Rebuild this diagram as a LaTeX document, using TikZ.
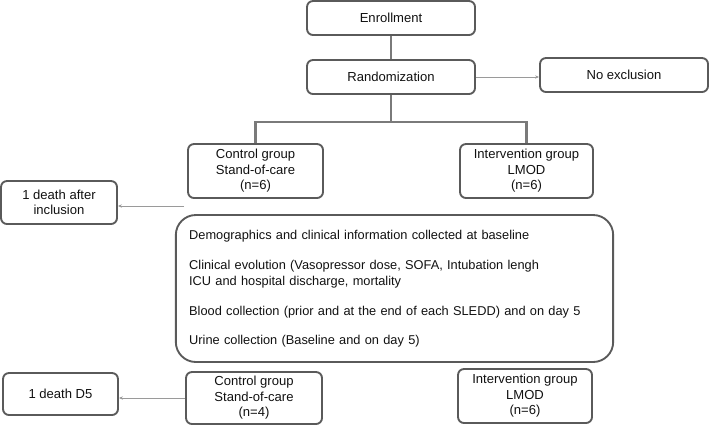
\documentclass[tikz,border=0pt]{standalone}
\usepackage{fontspec}
\setmainfont{Liberation Sans}
\usetikzlibrary{arrows.meta}
\definecolor{boxline}{HTML}{5A5A5A}
\definecolor{conn}{HTML}{7A7A7A}
\definecolor{thinarr}{HTML}{9A9A9A}
\definecolor{txt}{HTML}{111111}
\tikzset{
  box/.style={draw=boxline, line width=1.4pt, rounded corners=4.5pt, align=center,
    font=\fontsize{9.8}{11.6}\selectfont, text=txt, inner sep=0pt},
  bigbox/.style={draw=boxline, line width=1.4pt, rounded corners=15pt, align=left,
    font=\fontsize{9.6}{11.6}\selectfont, text=txt, inner sep=0pt},
  trunk/.style={draw=conn, line width=2.2pt},
  thin/.style={draw=thinarr, line width=0.6pt, -{Stealth[length=3pt,width=2.5pt]}},
}
\begin{document}
\begin{tikzpicture}[x=0.75pt,y=-0.75pt]
\useasboundingbox (0,0) rectangle (710,426);
\node[box, minimum width=126pt, minimum height=25.5pt] (enr) at (391,18) {Enrollment};
\node[box, minimum width=126pt, minimum height=25.5pt] (rand) at (391,77) {Randomization};
\node[box, minimum width=126pt, minimum height=25.5pt] (noex) at (624,75) {No exclusion};
\node[box, minimum width=101.25pt, minimum height=40.5pt] (ctrl1) at (255.5,171) {Control group\\Stand-of-care\\(n=6)};
\node[box, minimum width=99.75pt, minimum height=40.5pt] (int1) at (526.5,171) {Intervention group\\LMOD\\(n=6)};
\node[box, minimum width=87pt, minimum height=32.25pt] (d1) at (59,202.5) {1 death after\\inclusion};
\node[bigbox, minimum width=328pt, minimum height=110.25pt, text width=308pt] (big) at (394.5,288.5) {%
Demographics and clinical information collected at baseline\\[11.4pt]
Clinical evolution (Vasopressor dose, SOFA, Intubation lengh\\
ICU and hospital discharge, mortality\\[11pt]
Blood collection (prior and at the end of each SLEDD) and on day 5\\[10pt]
Urine collection (Baseline and on day 5)};
\node[box, minimum width=102pt, minimum height=39pt] (ctrl2) at (254,398) {Control group\\Stand-of-care\\(n=4)};
\node[box, minimum width=86.25pt, minimum height=31.5pt] (d2) at (60.5,394) {1 death D5};
\node[box, minimum width=100.5pt, minimum height=40.5pt] (int2) at (525,396) {Intervention group\\LMOD\\(n=6)};
\coordinate (split) at (391,122);
\draw[trunk] (enr) -- (rand);
\draw[trunk] (rand.south) -- (split);
\draw[trunk] (ctrl1.north) |- (split) -| (int1.north);
\draw[thin] (rand.east) -- (rand.east -| noex.west);
\coordinate (a1) at (184,206);
\draw[thin] (a1) -- (a1 -| d1.east);
\draw[thin] (ctrl2.west |- 0,398) -- (d2.east |- 0,398);
\end{tikzpicture}
\end{document}
